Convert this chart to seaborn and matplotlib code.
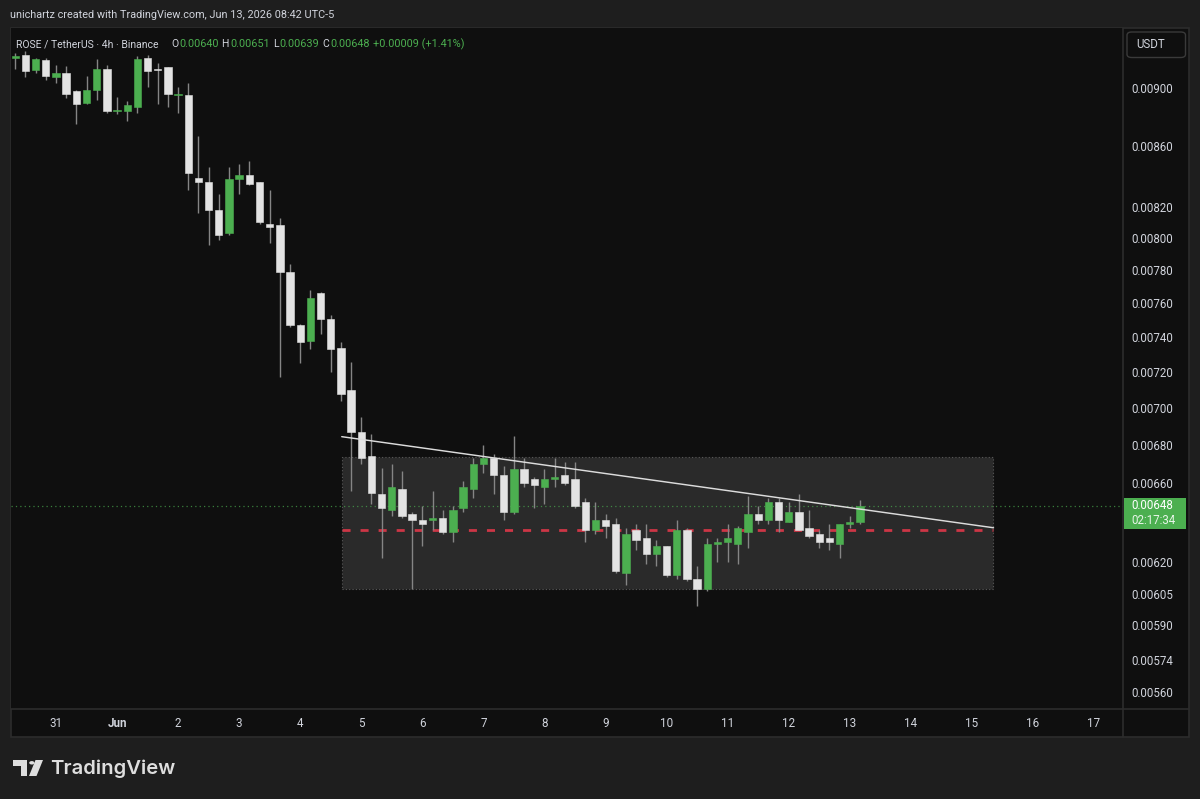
import matplotlib
matplotlib.use("Agg")
import matplotlib.pyplot as plt
from matplotlib.patches import Rectangle, FancyBboxPatch, Polygon, Circle
from matplotlib.lines import Line2D
from matplotlib.ticker import NullLocator, FixedLocator, FixedFormatter
import numpy as np
import pandas as pd
import seaborn as sns

W, H = 1200, 799

# ---------------- data ----------------
opens = [0.00922, 0.00924, 0.00913, 0.00920, 0.00908, 0.00911, 0.00898, 0.00890, 0.00899, 0.00914,
         0.00884, 0.00884, 0.00887, 0.00922, 0.00914, 0.00915, 0.00895, 0.00895, 0.00839, 0.00836,
         0.00818, 0.00803, 0.00838, 0.00841, 0.00836, 0.00809, 0.00808, 0.00779, 0.00747, 0.00738,
         0.00766, 0.00751, 0.00734, 0.00710, 0.00687, 0.00674, 0.00654, 0.00646, 0.00657, 0.00644,
         0.00641, 0.00641, 0.00642, 0.00635, 0.00647, 0.00657, 0.00670, 0.00673, 0.00664, 0.00645,
         0.00667, 0.00662, 0.00658, 0.00662, 0.00664, 0.00662, 0.00650, 0.00636, 0.00641, 0.00639,
         0.00615, 0.00636, 0.00632, 0.00624, 0.00628, 0.00614, 0.00636, 0.00612, 0.00607, 0.00629,
         0.00630, 0.00629, 0.00635, 0.00644, 0.00641, 0.00650, 0.00640, 0.00645, 0.00637, 0.00634,
         0.00632, 0.00629, 0.00639, 0.00640]
highs = [0.00925, 0.00927, 0.00922, 0.00922, 0.00917, 0.00916, 0.00899, 0.00909, 0.00921, 0.00917,
         0.00894, 0.00891, 0.00923, 0.00924, 0.00918, 0.00915, 0.00901, 0.00904, 0.00867, 0.00846,
         0.00828, 0.00846, 0.00848, 0.00850, 0.00836, 0.00831, 0.00813, 0.00784, 0.00748, 0.00768,
         0.00767, 0.00753, 0.00737, 0.00726, 0.00695, 0.00686, 0.00668, 0.00670, 0.00666, 0.00645,
         0.00648, 0.00656, 0.00646, 0.00648, 0.00661, 0.00673, 0.00680, 0.00675, 0.00669, 0.00685,
         0.00673, 0.00663, 0.00667, 0.00673, 0.00671, 0.00671, 0.00652, 0.00650, 0.00644, 0.00642,
         0.00637, 0.00639, 0.00639, 0.00631, 0.00628, 0.00641, 0.00637, 0.00618, 0.00632, 0.00632,
         0.00639, 0.00638, 0.00653, 0.00648, 0.00652, 0.00652, 0.00650, 0.00654, 0.00646, 0.00636,
         0.00639, 0.00639, 0.00643, 0.00651]
lows = [0.00914, 0.00908, 0.00911, 0.00906, 0.00904, 0.00893, 0.00875, 0.00889, 0.00892, 0.00883,
        0.00882, 0.00877, 0.00883, 0.00901, 0.00889, 0.00887, 0.00883, 0.00831, 0.00816, 0.00796,
        0.00799, 0.00802, 0.00828, 0.00834, 0.00809, 0.00797, 0.00717, 0.00746, 0.00725, 0.00733,
        0.00742, 0.00720, 0.00704, 0.00656, 0.00670, 0.00649, 0.00622, 0.00643, 0.00642, 0.00607,
        0.00628, 0.00636, 0.00634, 0.00630, 0.00645, 0.00652, 0.00665, 0.00654, 0.00641, 0.00644,
        0.00658, 0.00647, 0.00649, 0.00658, 0.00659, 0.00647, 0.00630, 0.00634, 0.00632, 0.00615,
        0.00609, 0.00626, 0.00619, 0.00618, 0.00613, 0.00612, 0.00611, 0.00599, 0.00606, 0.00620,
        0.00620, 0.00619, 0.00627, 0.00639, 0.00639, 0.00635, 0.00640, 0.00636, 0.00632, 0.00627,
        0.00626, 0.00622, 0.00637, 0.00639]
closes = [0.00923, 0.00912, 0.00921, 0.00909, 0.00911, 0.00896, 0.00889, 0.00899, 0.00914, 0.00884,
          0.00885, 0.00888, 0.00921, 0.00912, 0.00913, 0.00896, 0.00896, 0.00842, 0.00836, 0.00818,
          0.00802, 0.00838, 0.00841, 0.00835, 0.00810, 0.00807, 0.00779, 0.00747, 0.00737, 0.00763,
          0.00751, 0.00733, 0.00708, 0.00687, 0.00673, 0.00655, 0.00647, 0.00658, 0.00643, 0.00641,
          0.00639, 0.00642, 0.00635, 0.00646, 0.00658, 0.00670, 0.00673, 0.00664, 0.00645, 0.00667,
          0.00660, 0.00659, 0.00662, 0.00663, 0.00660, 0.00648, 0.00636, 0.00641, 0.00638, 0.00616,
          0.00634, 0.00631, 0.00624, 0.00628, 0.00614, 0.00636, 0.00612, 0.00607, 0.00629, 0.00630,
          0.00632, 0.00637, 0.00644, 0.00641, 0.00650, 0.00641, 0.00645, 0.00636, 0.00633, 0.00630,
          0.00630, 0.00639, 0.00640, 0.00648]

day_tick_pos = [4, 10, 16, 22, 28, 34, 40, 46, 52, 58, 64, 70, 76, 82, 88, 94, 100, 106]
day_labels = ['31', 'Jun', '2', '3', '4', '5', '6', '7', '8', '9', '10', '11', '12', '13',
              '14', '15', '16', '17']
price_ticks = [0.00900, 0.00860, 0.00820, 0.00800, 0.00780, 0.00760, 0.00740, 0.00720,
               0.00700, 0.00680, 0.00660, 0.00620, 0.00605, 0.00590, 0.00574, 0.00560]

zone_x = [32.1, 96.1]
zone_price = [0.006070, 0.006737]
trend_x = [32.08, 96.13]
trend_price = [0.006844, 0.006371]
support_price = 0.00636
last_price = 0.00648

title_text = "unichartz created with TradingView.com, Jun 13, 2026 08:42 UTC-5"
symbol_text = "ROSE / TetherUS \u00b7 4h \u00b7 Binance"
ohlc_labels = ["O", "H", "L", "C"]
ohlc_values = ["0.00640", "0.00651", "0.00639", "0.00648"]
change_text = "+0.00009 (+1.41%)"
countdown = "02:17:34"

# ---------------- style ----------------
sns.set_theme(style="dark")
plt.rcParams['font.family'] = ['Roboto', 'DejaVu Sans']

BG_OUT = '#1e1e1e'
BG = '#0f0f0f'
GREEN = '#4caf50'
WHITE_C = '#e3e3e3'
WICK = '#858585'
TXT = '#d1d4dc'
BORDER = '#2c2c2c'
FS = 7.8

def fx(x):
    return x / W

def fy(y):
    return 1 - y / H

fig = plt.figure(figsize=(W / 100, H / 100), dpi=100, facecolor=BG_OUT)

# chart panel (behind the axes)
fig.patches.append(Rectangle((fx(11), fy(737)), fx(1189) - fx(11), fy(28) - fy(737),
                             transform=fig.transFigure, facecolor=BG, edgecolor=BORDER,
                             lw=1.2, zorder=-5))
fig.add_artist(Line2D([fx(1123), fx(1123)], [fy(28), fy(737)], color=BORDER, lw=1.2,
                      transform=fig.transFigure, zorder=6))
fig.add_artist(Line2D([fx(11), fx(1189)], [fy(709), fy(709)], color=BORDER, lw=1.2,
                      transform=fig.transFigure, zorder=6))

ax = fig.add_axes([fx(11), fy(709), fx(1123) - fx(11), fy(28) - fy(709)])
ax.set_facecolor(BG)
ax.set_zorder(1)
for s in ax.spines.values():
    s.set_visible(False)
ax.grid(False)

df = pd.DataFrame({'i': np.arange(len(opens)), 'open': opens, 'high': highs,
                   'low': lows, 'close': closes})
df['up'] = df['close'] >= df['open']
df['bottom'] = df[['open', 'close']].min(axis=1)
df['height'] = (df['close'] - df['open']).abs()
body_colors = [GREEN if u else WHITE_C for u in df['up']]

ax.set_yscale('log')

# zone rectangle
ax.add_patch(Rectangle((zone_x[0], zone_price[0]), zone_x[1] - zone_x[0],
                       zone_price[1] - zone_price[0], facecolor='#2a2a2a',
                       edgecolor='#5a5a5a', lw=0.8, linestyle=(0, (1, 2)), zorder=1))
# support dashed line
ax.plot(zone_x, [support_price, support_price], color='#cc3646', lw=2,
        dashes=(2.9, 3.6), zorder=2)
# current price dotted line
ax.axhline(last_price, color=GREEN, alpha=0.7, lw=0.9, linestyle=(0, (1, 2.5)), zorder=2)

# candles
ax.vlines(df['i'], df['low'], df['high'], colors=WICK, lw=1, zorder=3)
ax.bar(df['i'], df['height'], bottom=df['bottom'], width=0.72, color=body_colors,
       edgecolor=body_colors, linewidth=0.4, zorder=4)

# trend line
sns.lineplot(x=trend_x, y=trend_price, ax=ax, color='#dcdcdc', lw=1.05, zorder=5)

ax.set_xlim(-0.42, 108.85)
ax.set_ylim(0.005525, 0.009437)

ax.yaxis.set_major_locator(FixedLocator(price_ticks))
ax.yaxis.set_major_formatter(FixedFormatter([f"{p:.5f}" for p in price_ticks]))
ax.yaxis.set_minor_locator(NullLocator())
ax.yaxis.tick_right()
ax.tick_params(axis='y', length=0, pad=5.8, labelcolor=TXT, labelsize=8.3)

ax.set_xticks(day_tick_pos)
ax.set_xticklabels(day_labels)
ax.tick_params(axis='x', length=0, pad=6, labelcolor=TXT, labelsize=8.4)
for lab in ax.get_xticklabels():
    if lab.get_text() == 'Jun':
        lab.set_fontweight('bold')
ax.set_xlabel('')
ax.set_ylabel('')

# ---------------- texts ----------------
fig.text(fx(10), fy(15), title_text, color=TXT, fontsize=FS, va='center', ha='left')

ly = fy(44)
fig.text(fx(16), ly, symbol_text, color=TXT, fontsize=7.5, va='center', ha='left')
lab_x = [171, 221.5, 273, 322.5]
val_x = [179, 230, 279.2, 330.2]
for lx, vx, l, v in zip(lab_x, val_x, ohlc_labels, ohlc_values):
    fig.text(fx(lx), ly, l, color=TXT, fontsize=7.5, va='center', ha='left')
    fig.text(fx(vx), ly, v, color=GREEN, fontsize=FS, va='center', ha='left')
fig.text(fx(373), ly, change_text, color=GREEN, fontsize=FS, va='center', ha='left')

# USDT box
fig.patches.append(FancyBboxPatch((fx(1127), fy(57.5)), fx(1185.5) - fx(1127), fy(32) - fy(57.5),
                                  boxstyle="round,pad=0,rounding_size=0.004",
                                  transform=fig.transFigure, facecolor=BG,
                                  edgecolor='#3a3a3a', lw=1, zorder=3))
fig.text(fx(1136), fy(45), "USDT", color=TXT, fontsize=8.3, va='center', ha='left', zorder=4)

# last price label
fig.patches.append(Rectangle((fx(1123.5), fy(528.5)), fx(1185.5) - fx(1123.5), fy(497.5) - fy(528.5),
                             transform=fig.transFigure, facecolor=GREEN, edgecolor='none', zorder=7))
fig.text(fx(1131), fy(506), f"{last_price:.5f}", color='white', fontsize=8.3, va='center',
         ha='left', zorder=8)
fig.text(fx(1131), fy(520.5), countdown, color='#e8f5e9', fontsize=8.3, va='center',
         ha='left', zorder=8)

# TradingView logo
LOGO = '#dedede'
fig.patches.append(Polygon([(fx(12.7), fy(760)), (fx(27.3), fy(760)), (fx(27.3), fy(776)),
                            (fx(20.7), fy(776)), (fx(20.7), fy(766)), (fx(12.7), fy(766))],
                           closed=True, transform=fig.transFigure, facecolor=LOGO,
                           edgecolor='none'))
fig.patches.append(Circle((fx(31.8), fy(762.8)), 2.6 / W, transform=fig.transFigure,
                          facecolor=LOGO, edgecolor='none'))
fig.patches.append(Polygon([(fx(35.5), fy(760)), (fx(43), fy(760)), (fx(36.5), fy(776)),
                            (fx(29), fy(776))], closed=True, transform=fig.transFigure,
                           facecolor=LOGO, edgecolor='none'))
fig.text(fx(50), fy(768.5), "TradingView", color=LOGO, fontsize=14.6, fontweight='semibold',
         va='center', ha='left', family=['Inter', 'DejaVu Sans'])

fig.savefig("out.png", dpi=100, facecolor=fig.get_facecolor())
